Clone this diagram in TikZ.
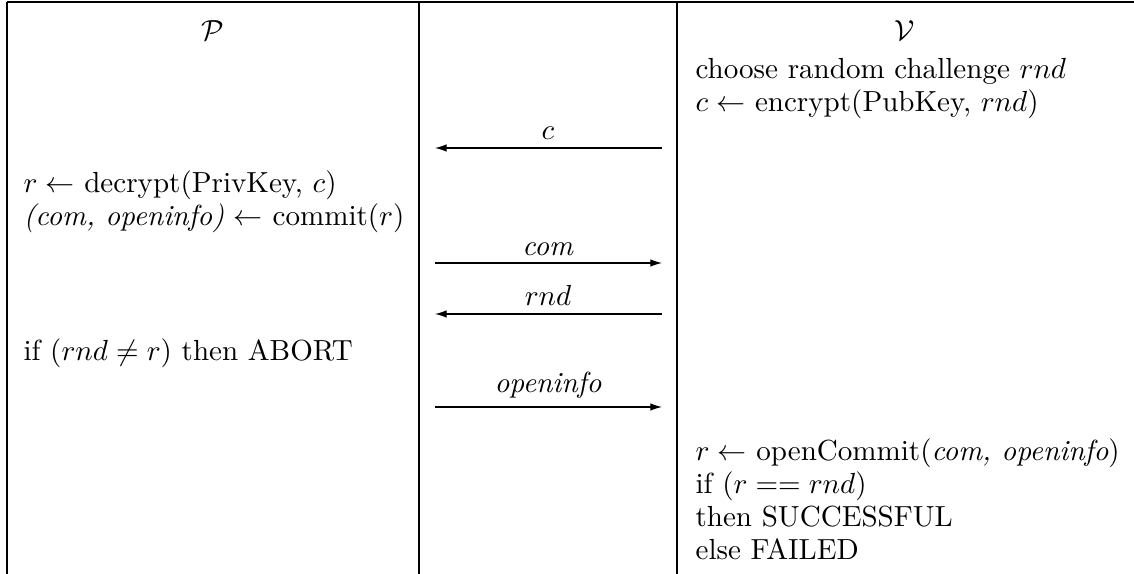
\documentclass[tikz,border=0pt]{standalone}
\usetikzlibrary{arrows.meta}
\begin{document}
\begin{tikzpicture}[x=0.344pt,y=-0.344pt,
  rule/.style={line width=0.4pt},
  msg/.style={line width=0.4pt,-{Latex[length=4pt,width=2.6pt]}},
  ltxt/.style={anchor=base west,inner sep=0pt},
  ctxt/.style={anchor=base,inner sep=0pt},
  font=\normalsize]
\useasboundingbox (0,0) rectangle (1134,574);
% table rules
\coordinate (tl) at (7,2);
\coordinate (tr) at (1134,2);
\coordinate (bl) at (7,574);
\coordinate (d1t) at (419,2);
\coordinate (d1b) at (419,574);
\coordinate (d2t) at (677,2);
\coordinate (d2b) at (677,574);
\draw[rule] (tl) -- (tr);
\draw[rule] (tl) -- (bl);
\draw[rule] (d1t) -- (d1b);
\draw[rule] (d2t) -- (d2b);
% headers
\node[ctxt] (P) at (213,41) {$\mathcal{P}$};
\node[ctxt] (V) at (905,41) {$\mathcal{V}$};
% verifier text
\node[ltxt] (v1) at (695,79) {choose random challenge $rnd$};
\node[ltxt] (v2) at (695,112) {$c \leftarrow$ encrypt(PubKey, $rnd$)};
% prover text
\node[ltxt] (p1) at (23,193) {$r \leftarrow$ decrypt(PrivKey, $c$)};
\node[ltxt] (p2) at (23,226) {\textit{(com, openinfo)} $\leftarrow$ commit($r$)};
\node[ltxt] (p3) at (23,361) {if ($rnd \neq r$) then ABORT};
% verifier final
\node[ltxt] (v3) at (695,461) {$r \leftarrow$ openCommit(\textit{com, openinfo})};
\node[ltxt] (v4) at (695,494) {if ($r == rnd$)};
\node[ltxt] (v5) at (695,527) {then SUCCESSFUL};
\node[ltxt] (v6) at (695,560) {else FAILED};
% messages
\coordinate (m1r) at (662,148); \coordinate (m1l) at (435,148);
\coordinate (m2l) at (435,263); \coordinate (m2r) at (662,263);
\coordinate (m3r) at (662,314); \coordinate (m3l) at (435,314);
\coordinate (m4l) at (435,407); \coordinate (m4r) at (662,407);
\draw[msg] (m1r) -- (m1l);
\draw[msg] (m2l) -- (m2r);
\draw[msg] (m3r) -- (m3l);
\draw[msg] (m4l) -- (m4r);
\node[ctxt] (l1) at (548,140) {$c$};
\node[ctxt] (l2) at (548,256) {\textit{com}};
\node[ctxt] (l3) at (548,306) {$rnd$};
\node[ctxt] (l4) at (548,393) {\textit{openinfo}};
\end{tikzpicture}
\end{document}
